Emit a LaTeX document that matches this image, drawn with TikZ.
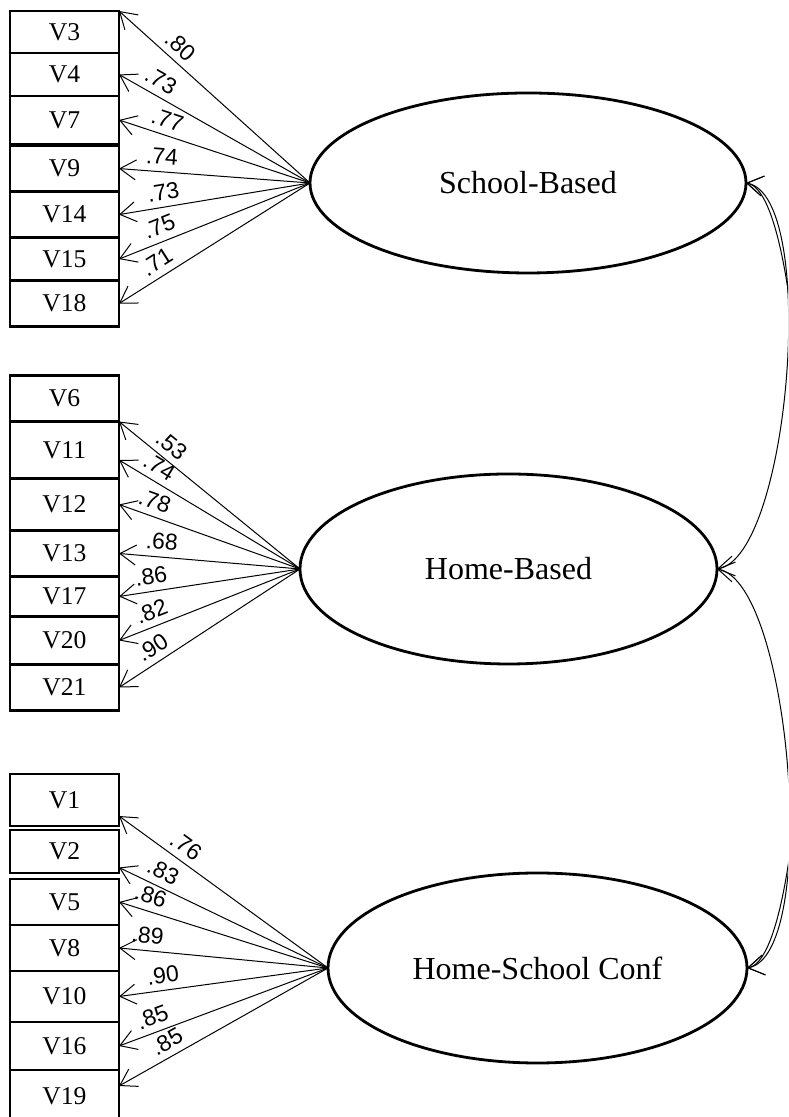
\documentclass[tikz,border=0pt]{standalone}
\usepackage{fontspec}
\setmainfont{Liberation Serif}
\setsansfont{Liberation Sans}
\usetikzlibrary{arrows.meta,positioning,shapes.geometric}

\begin{document}
\begin{tikzpicture}[x=0.5pt,y=0.5pt,>={Straight Barb[length=8pt,width=10pt]},
                    var node/.style={rectangle,draw,line width=1.4pt,outer sep=0pt,inner sep=0pt,
                      minimum width=54.5pt,minimum height=23pt,font=\fontsize{12.8}{14}\selectfont},
                    factor node/.style={ellipse,draw,line width=1.4pt,outer sep=0pt,inner sep=0pt,
                      font=\fontsize{16}{18}\selectfont}]
  \useasboundingbox (0,0) rectangle (788,1117);
  \clip (0,0) rectangle (788,1117);
  % factors
  \node[factor node,minimum width=218pt,minimum height=90pt] (sb) at (528,934) {School-Based};
  \node[factor node,minimum width=208.5pt,minimum height=95pt] (hb) at (508.5,548) {Home-Based};
  \node[factor node,minimum width=209.5pt,minimum height=95pt] (hsc) at (537.5,149) {Home-School Conf};
  % school-based items
  \node[var node,minimum height=21pt] (v3) at (64.5,1085) {V3};
  \node[var node,minimum height=21.5pt] (v4) [below=0pt of v3] {V4};
  \node[var node,minimum height=24pt] (v7) [below=0pt of v4] {V7};
  \node[var node] (v9) [below=0.8pt of v7] {V9};
  \node[var node] (v14) [below=0pt of v9] {V14};
  \node[var node,minimum height=21.5pt] (v15) [below=0pt of v14] {V15};
  \node[var node] (v18) [below=0pt of v15] {V18};
  % home-based items
  \node[var node] (v6) at (64.5,718.5) {V6};
  \node[var node,minimum height=28.5pt] (v11) [below=0pt of v6] {V11};
  \node[var node,minimum height=26pt] (v12) [below=0pt of v11] {V12};
  \node[var node] (v13) [below=0pt of v12] {V13};
  \node[var node,minimum height=20pt] (v17) [below=0pt of v13] {V17};
  \node[var node,minimum height=24pt] (v20) [below=0pt of v17] {V20};
  \node[var node] (v21) [below=0pt of v20] {V21};
  % home-school conference items
  \node[var node,minimum height=26pt] (v1) at (64.5,317) {V1};
  \node[var node,minimum height=21.5pt] (v2) [below=2pt of v1] {V2};
  \node[var node] (v5) [below=3pt of v2] {V5};
  \node[var node] (v8) [below=0pt of v5] {V8};
  \node[var node,minimum height=25.5pt] (v10) [below=0pt of v8] {V10};
  \node[var node,minimum height=24pt] (v16) [below=0pt of v10] {V16};
  \node[var node,minimum height=26pt] (v19) [below=0pt of v16] {V19};
  % loadings
  \path[line width=0.5pt,every node/.style={font=\sffamily\fontsize{11.5}{13}\selectfont,sloped,above}]
    (sb.west) edge [->] node [pos=.73] {.80} (v3.north east)
    (sb.west) edge [->] node [pos=.82] {.73} (v4.east)
    (sb.west) edge [->] node [pos=.77] {.77} (v7.east)
    (sb.west) edge [->] node [pos=.78] {.74} (v9.east)
    (sb.west) edge [->] node [pos=.755] {.73} (v14.east)
    (sb.west) edge [->] node [pos=.76] {.75} (v15.east)
    (sb.west) edge [->] node [pos=.76] {.71} (v18.east)
    (hb.west) edge [->] node [pos=.76] {.53} (v6.south east)
    (hb.west) edge [->] node [pos=.82] {.74} ([yshift=-5pt]v11.east)
    (hb.west) edge [->] node [pos=.83] {.78} (v12.east)
    (hb.west) edge [->] node [pos=.77] {.68} (v13.east)
    (hb.west) edge [->] node [pos=.81] {.86} (v17.east)
    (hb.west) edge [->] node [pos=.79] {.82} (v20.east)
    (hb.west) edge [->] node [pos=.77] {.90} (v21.east)
    (hsc.west) edge [->] node [pos=.72] {.76} ([yshift=-8pt]v1.east)
    (hsc.west) edge [->] node [pos=.82] {.83} ([yshift=-8pt]v2.east)
    (hsc.west) edge [->] node [pos=.87] {.86} (v5.east)
    (hsc.west) edge [->] node [pos=.87] {.89} (v8.east)
    (hsc.west) edge [->] node [pos=.78] {.90} (v10.east)
    (hsc.west) edge [->] node [pos=.815] {.85} (v16.east)
    (hsc.west) edge [->] node [pos=.735] {.85} ([yshift=5pt]v19.east)
    ;
  % correlations
  \draw[<->,line width=0.5pt] (sb.east) to[out=-10,in=10,looseness=.49] (hb.east);
  \draw[<->,line width=0.5pt] (hb.east) to[out=-10,in=10,looseness=.48] (hsc.east);
  \draw[<->,line width=0.5pt] (sb.east) to[out=-10,in=10,looseness=.26] (hsc.east);
\end{tikzpicture}
\end{document}
